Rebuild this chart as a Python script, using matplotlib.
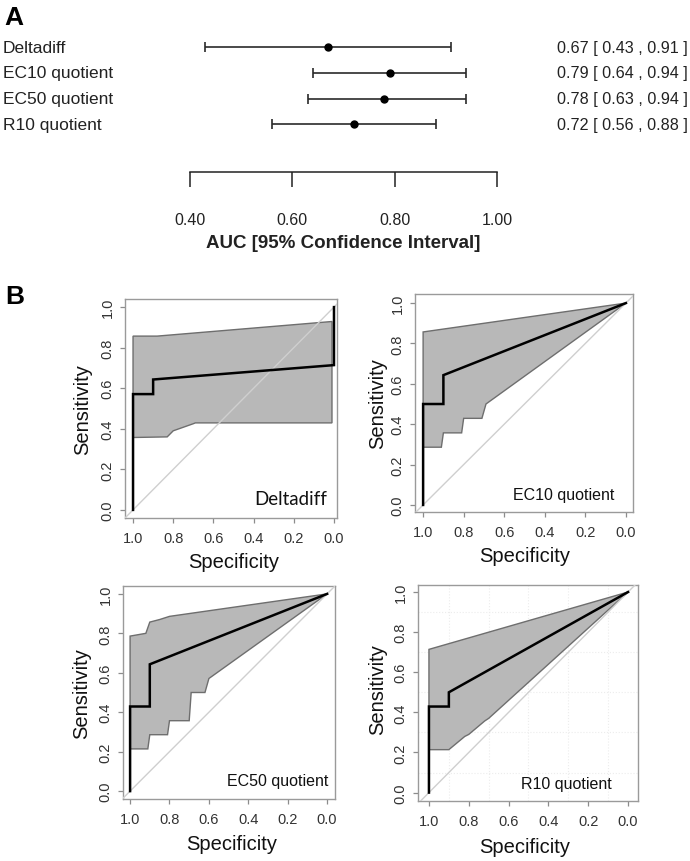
import numpy as np
import matplotlib
matplotlib.use("Agg")
import matplotlib.pyplot as plt
from matplotlib import transforms

# ---------------- data ----------------
markers = ["Deltadiff", "EC10 quotient", "EC50 quotient", "R10 quotient"]
auc = [0.67, 0.79, 0.78, 0.72]
ci_low = [0.43, 0.64, 0.63, 0.56]
ci_high = [0.91, 0.94, 0.94, 0.88]
auc_ticks = [0.40, 0.60, 0.80, 1.00]

# ROC curves (specificity, sensitivity)
dd_spec = [1.0, 1.0, 0.9, 0.9, 0.0, 0.0]
dd_sens = [0.0, 0.571, 0.571, 0.643, 0.714, 1.0]
dd_up_spec = [1.0, 0.88, 0.01]
dd_up_sens = [0.857, 0.857, 0.929]
dd_lo_spec = [1.0, 0.83, 0.82, 0.80, 0.70, 0.69, 0.01]
dd_lo_sens = [0.357, 0.36, 0.37, 0.39, 0.425, 0.429, 0.429]

ec10_spec = [1.0, 1.0, 0.9, 0.9, 0.0]
ec10_sens = [0.0, 0.5, 0.5, 0.643, 1.0]
ec10_up_spec = [1.0, 1.0, 0.0]
ec10_up_sens = [0.286, 0.857, 1.0]
ec10_lo_spec = [1.0, 0.91, 0.90, 0.81, 0.80, 0.71, 0.69, 0.0]
ec10_lo_sens = [0.286, 0.286, 0.357, 0.357, 0.429, 0.429, 0.5, 1.0]

ec50_spec = [1.0, 1.0, 0.9, 0.9, 0.0]
ec50_sens = [0.0, 0.429, 0.429, 0.643, 1.0]
ec50_up_spec = [1.0, 1.0, 0.92, 0.90, 0.85, 0.80, 0.0]
ec50_up_sens = [0.214, 0.786, 0.80, 0.857, 0.87, 0.886, 1.0]
ec50_lo_spec = [1.0, 0.91, 0.90, 0.81, 0.80, 0.70, 0.69, 0.62, 0.60, 0.0]
ec50_lo_sens = [0.214, 0.214, 0.286, 0.286, 0.357, 0.357, 0.5, 0.5, 0.571, 1.0]

r10_spec = [1.0, 1.0, 0.9, 0.9, 0.0]
r10_sens = [0.0, 0.429, 0.429, 0.5, 1.0]
r10_up_spec = [1.0, 1.0, 0.0]
r10_up_sens = [0.214, 0.714, 1.0]
r10_lo_spec = [1.0, 0.9, 0.82, 0.80, 0.72, 0.70, 0.0]
r10_lo_sens = [0.214, 0.214, 0.28, 0.29, 0.357, 0.37, 1.0]

roc_ticks = [1.0, 0.8, 0.6, 0.4, 0.2, 0.0]
sens_ticks = [0.0, 0.2, 0.4, 0.6, 0.8, 1.0]

# ---------------- figure ----------------
W, H = 690, 862
fig = plt.figure(figsize=(W / 100, H / 100), dpi=100)
plt.rcParams['font.family'] = ['Liberation Sans', 'DejaVu Sans']
NARROW = ['Liberation Sans', 'DejaVu Sans']


def box(l, t, r, b):
    return [l / W, 1 - b / H, (r - l) / W, (b - t) / H]


def ftext(x, y, s, **kw):
    return fig.text(x / W, 1 - y / H, s, **kw)


# ---------------- panel A ----------------
ftext(14, 18, "A", fontsize=19, fontweight='bold', ha='center', va='center')
axA = fig.add_axes(box(190, 35, 497, 173))
rows = np.arange(len(markers))
axA.errorbar(auc, rows, xerr=[np.subtract(auc, ci_low), np.subtract(ci_high, auc)],
             fmt='o', color='black', ecolor='#2a2a2a', elinewidth=1.2, capsize=3.5,
             capthick=1.2, markersize=5)
axA.set_xlim(0.4, 1.0)
axA.set_ylim(4.87, -0.52)
axA.set_xticks(auc_ticks)
axA.set_xticklabels([f"{t:.2f}" for t in auc_ticks], family=NARROW, fontsize=11.5, color='#222222')
axA.tick_params(axis='x', direction='out', length=10.5, width=1.1, pad=18, color='#222222')
axA.set_yticks([])
for s in ['left', 'right', 'top']:
    axA.spines[s].set_visible(False)
axA.spines['bottom'].set_color('#222222')
axA.spines['bottom'].set_linewidth(1.1)
axA.patch.set_alpha(0)
blend = transforms.blended_transform_factory(fig.transFigure, axA.transData)
for i, name in enumerate(markers):
    axA.text(3 / W, rows[i], name, transform=blend, ha='left', va='center',
             fontsize=12.5, color='#222222')
    axA.text(688 / W, rows[i], f"{auc[i]:.2f} [ {ci_low[i]:.2f} , {ci_high[i]:.2f} ]",
             transform=blend, ha='right', va='center', family=NARROW, fontsize=11.6,
             color='#222222')
ftext(343, 244, "AUC [95% Confidence Interval]", fontsize=13.5, fontweight='bold',
      ha='center', va='center', color='#222222')

# ---------------- panel B ----------------
ftext(15, 297, "B", fontsize=19, fontweight='bold', ha='center', va='center')

panels = [
    dict(pos=(125, 300, 337, 519), xlim=(1.04, -0.015), ylim=(-0.04, 1.04),
         spec=dd_spec, sens=dd_sens, us=dd_up_spec, un=dd_up_sens, ls=dd_lo_spec, ln=dd_lo_sens,
         label="Deltadiff", lab_xy=(327, 500), lab_font=['Lato', 'Liberation Sans'], lab_size=13.5,
         ylab=(83, 410), xlab=(234, 562), grid=False),
    dict(pos=(415, 295, 633, 513), xlim=(1.04, -0.035), ylim=(-0.035, 1.045),
         spec=ec10_spec, sens=ec10_sens, us=ec10_up_spec, un=ec10_up_sens, ls=ec10_lo_spec,
         ln=ec10_lo_sens, label="EC10 quotient", lab_xy=(614, 496),
         lab_font=['Liberation Sans'], lab_size=11.5, ylab=(378, 404), xlab=(525, 557), grid=False),
    dict(pos=(123, 587, 335, 800), xlim=(1.036, -0.04), ylim=(-0.04, 1.04),
         spec=ec50_spec, sens=ec50_sens, us=ec50_up_spec, un=ec50_up_sens, ls=ec50_lo_spec,
         ln=ec50_lo_sens, label="EC50 quotient", lab_xy=(328, 782),
         lab_font=['Liberation Sans'], lab_size=11.5, ylab=(82, 694), xlab=(232, 845), grid=False),
    dict(pos=(418, 586, 638, 802), xlim=(1.055, -0.05), ylim=(-0.042, 1.035),
         spec=r10_spec, sens=r10_sens, us=r10_up_spec, un=r10_up_sens, ls=r10_lo_spec,
         ln=r10_lo_sens, label="R10 quotient", lab_xy=(612, 785),
         lab_font=['Liberation Sans'], lab_size=11.5, ylab=(378, 690), xlab=(525, 848), grid=True),
]

for p in panels:
    ax = fig.add_axes(box(*p['pos']))
    ax.set_xlim(*p['xlim'])
    ax.set_ylim(*p['ylim'])
    if p['grid']:
        ax.set_xticks(np.arange(0, 1.01, 0.1), minor=True)
        ax.set_yticks(np.arange(0, 1.01, 0.1), minor=True)
        ax.grid(which='minor', color='#ececec', lw=0.8, ls=':')
        ax.tick_params(which='minor', length=0)
        ax.set_axisbelow(True)
    poly_x = np.concatenate([p['us'], p['ls'][::-1]])
    poly_y = np.concatenate([p['un'], p['ln'][::-1]])
    ax.fill(poly_x, poly_y, facecolor='#b8b8b8', edgecolor='#6e6e6e', lw=1.0, zorder=2)
    ax.axline((1.0, 0.0), (0.0, 1.0), color='#cfcfcf', lw=1.0, zorder=3)
    ax.plot(p['spec'], p['sens'], color='black', lw=1.8, zorder=4,
            solid_joinstyle='miter')
    ax.set_xticks(roc_ticks)
    ax.set_xticklabels([f"{t:.1f}" for t in roc_ticks])
    ax.set_yticks(sens_ticks)
    ax.set_yticklabels([f"{t:.1f}" for t in sens_ticks], rotation=90, va='center')
    ax.tick_params(axis='both', direction='out', length=3.5, width=0.9, color='#8c8c8c',
                   labelsize=10.5, labelcolor='#333333')
    ax.tick_params(axis='x', pad=6)
    ax.tick_params(axis='y', pad=4)
    for s in ax.spines.values():
        s.set_color('#9a9a9a')
        s.set_linewidth(1.0)
    lx, ly = p['lab_xy']
    ftext(lx, ly, p['label'], ha='right', va='center', fontsize=p['lab_size'],
          family=p['lab_font'], color='#111111')
    ftext(*p['ylab'], "Sensitivity", rotation=90, ha='center', va='center',
          fontsize=14.5, color='#111111')
    ftext(*p['xlab'], "Specificity", ha='center', va='center', fontsize=14.5,
          color='#111111')

fig.savefig("out.png", dpi=100)
